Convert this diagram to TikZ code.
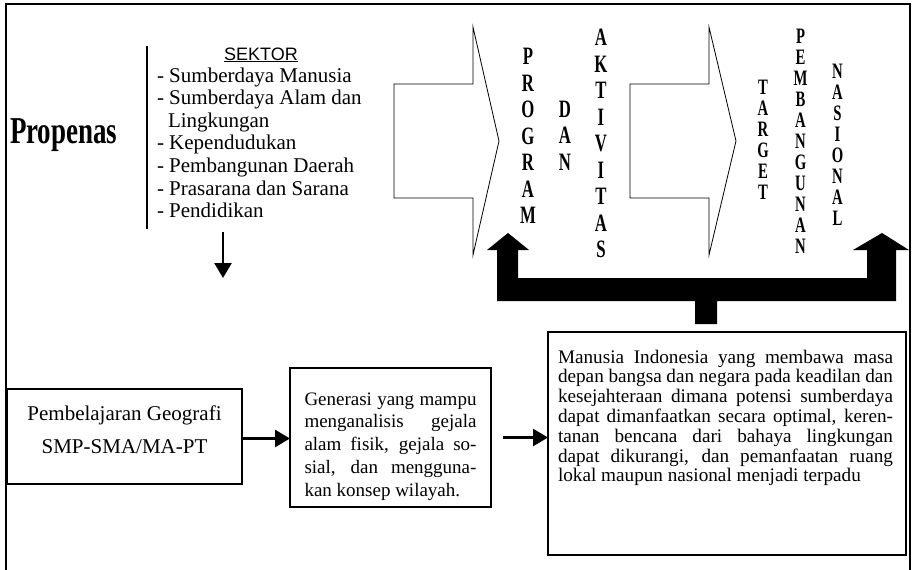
\documentclass[tikz,border=0pt]{standalone}
\usepackage{fontspec}
\setmainfont{Liberation Serif}
\setsansfont{Liberation Sans}
\usetikzlibrary{arrows.meta}
\begin{document}
\begin{tikzpicture}[x=1pt,y=-1pt,
  frame/.style={line width=2pt},
  boxnode/.style={draw, line width=1.3pt, inner sep=0pt, outer sep=0pt},
  hollow/.style={draw, line width=0.8pt, line join=miter},
  thickarrow/.style={line width=2.6pt, -{Triangle[length=15pt,width=17pt]}},
  colA/.style={anchor=base, inner sep=0pt, font=\bfseries\fontsize{25}{26.5}\selectfont},
  colB/.style={anchor=base, inner sep=0pt, font=\bfseries\fontsize{22}{21}\selectfont},
  plain/.style={inner sep=0pt, outer sep=0pt}
]
\useasboundingbox (0,0) rectangle (913,570);
% outer frame
\draw[frame] (6,570) -- (6,4) -- (910,4) -- (910,570);

% Propenas
\node[plain, anchor=base west, font=\bfseries\fontsize{38}{40}\selectfont] (prop) at (10,143) {\scalebox{0.71}[1]{Propenas}};

% vertical separator
\coordinate (vs1) at (147,46);
\coordinate (vs2) at (147,229);
\draw[line width=1.3pt] (vs1) -- (vs2);

% SEKTOR list
\node[plain, anchor=base, font=\sffamily\fontsize{18}{20}\selectfont] (sek) at (261,60) {\underline{SEKTOR}};
\node[plain, anchor=base west, font=\fontsize{21}{22.6}\selectfont] (list) at (157,82)
 {\begin{tabular}[t]{@{}l@{}}
 - Sumberdaya Manusia\\
 - Sumberdaya Alam dan\\
 \hspace*{11pt}Lingkungan\\
 - Kependudukan\\
 - Pembangunan Daerah\\
 - Prasarana dan Sarana\\
 - Pendidikan
 \end{tabular}};

% down arrow
\coordinate (da1) at (223,232);
\coordinate (da2) at (223,278);
\draw[thickarrow] (da1) -- (da2);

% hollow arrows
\draw[hollow] (394,84) -- (473,84) -- (473,27) -- (499,141) -- (473,255) -- (473,198) -- (394,198) -- cycle;
\draw[hollow] (630,84) -- (709,84) -- (709,27) -- (736,141) -- (709,255) -- (709,198) -- (630,198) -- cycle;

% vertical letter columns
\node[colA] (prog) at (528,64.5) {\scalebox{0.67}[1]{\begin{tabular}[t]{@{}c@{}}P\\R\\O\\G\\R\\A\\M\end{tabular}}};
\node[colA] (dan) at (565,117) {\scalebox{0.67}[1]{\begin{tabular}[t]{@{}c@{}}D\\A\\N\end{tabular}}};
\node[colA] (akt) at (601,45.5) {\scalebox{0.67}[1]{\begin{tabular}[t]{@{}c@{}}A\\K\\T\\I\\V\\I\\T\\A\\S\end{tabular}}};
\node[colB] (tar) at (763,94.6) {\scalebox{0.67}[1]{\begin{tabular}[t]{@{}c@{}}T\\A\\R\\G\\E\\T\end{tabular}}};
\node[colB] (pemb) at (800.5,43.6) {\scalebox{0.67}[1]{\begin{tabular}[t]{@{}c@{}}P\\E\\M\\B\\A\\N\\G\\U\\N\\A\\N\end{tabular}}};
\node[colB] (nas) at (837.5,78.6) {\scalebox{0.67}[1]{\begin{tabular}[t]{@{}c@{}}N\\A\\S\\I\\O\\N\\A\\L\end{tabular}}};

% black fork arrow
\fill (497,301) -- (497,250) -- (487,250) -- (508,233) -- (529,250) -- (518,250) -- (518,278)
  -- (867,278) -- (867,250) -- (853,250) -- (882,233) -- (909,250) -- (896,250) -- (896,301)
  -- (717,301) -- (717,324) -- (695,324) -- (695,301) -- cycle;

% boxes
\node[boxnode, minimum width=235pt, minimum height=95pt] (lbox) at (124.5,436.5) {};
\node[boxnode, minimum width=201pt, minimum height=139pt] (mbox) at (390.5,437.5) {};
\node[boxnode, minimum width=358pt, minimum height=223pt] (rbox) at (727,443.5) {};

% box texts
\node[plain, anchor=base, font=\fontsize{21}{33}\selectfont] (ltext) at (124.5,420)
 {\begin{tabular}[t]{@{}c@{}}Pembelajaran Geografi\\SMP-SMA/MA-PT\end{tabular}};

\node[plain, anchor=base west, font=\fontsize{19}{22.9}\selectfont] (mtext) at (304.5,405)
 {\begin{tabular}[t]{@{}l@{}}
 \makebox[172pt][s]{Generasi yang mampu}\\
 \makebox[172pt][s]{menganalisis gejala}\\
 \makebox[172pt][s]{alam fisik, gejala so-}\\
 \makebox[172pt][s]{sial, dan mengguna-}\\
 kan konsep wilayah.
 \end{tabular}};

\node[plain, anchor=base west, font=\fontsize{19.2}{19.8}\selectfont] (rtext) at (558,363)
 {\begin{tabular}[t]{@{}l@{}}
 \makebox[335pt][s]{Manusia Indonesia yang membawa masa}\\
 \makebox[335pt][s]{depan bangsa dan negara pada keadilan dan}\\
 \makebox[335pt][s]{kesejahteraan dimana potensi sumberdaya}\\
 \makebox[335pt][s]{dapat dimanfaatkan secara optimal, keren-}\\
 \makebox[335pt][s]{tanan bencana dari bahaya lingkungan}\\
 \makebox[335pt][s]{dapat dikurangi, dan pemanfaatan ruang}\\
 lokal maupun nasional menjadi terpadu
 \end{tabular}};

% connectors
\draw[thickarrow] ([yshift=-2pt]lbox.east) -- ([yshift=-2pt]lbox.east -| mbox.west);
\draw[thickarrow] ([xshift=12pt]mbox.east) -- (mbox.east -| rbox.west);
\end{tikzpicture}
\end{document}
